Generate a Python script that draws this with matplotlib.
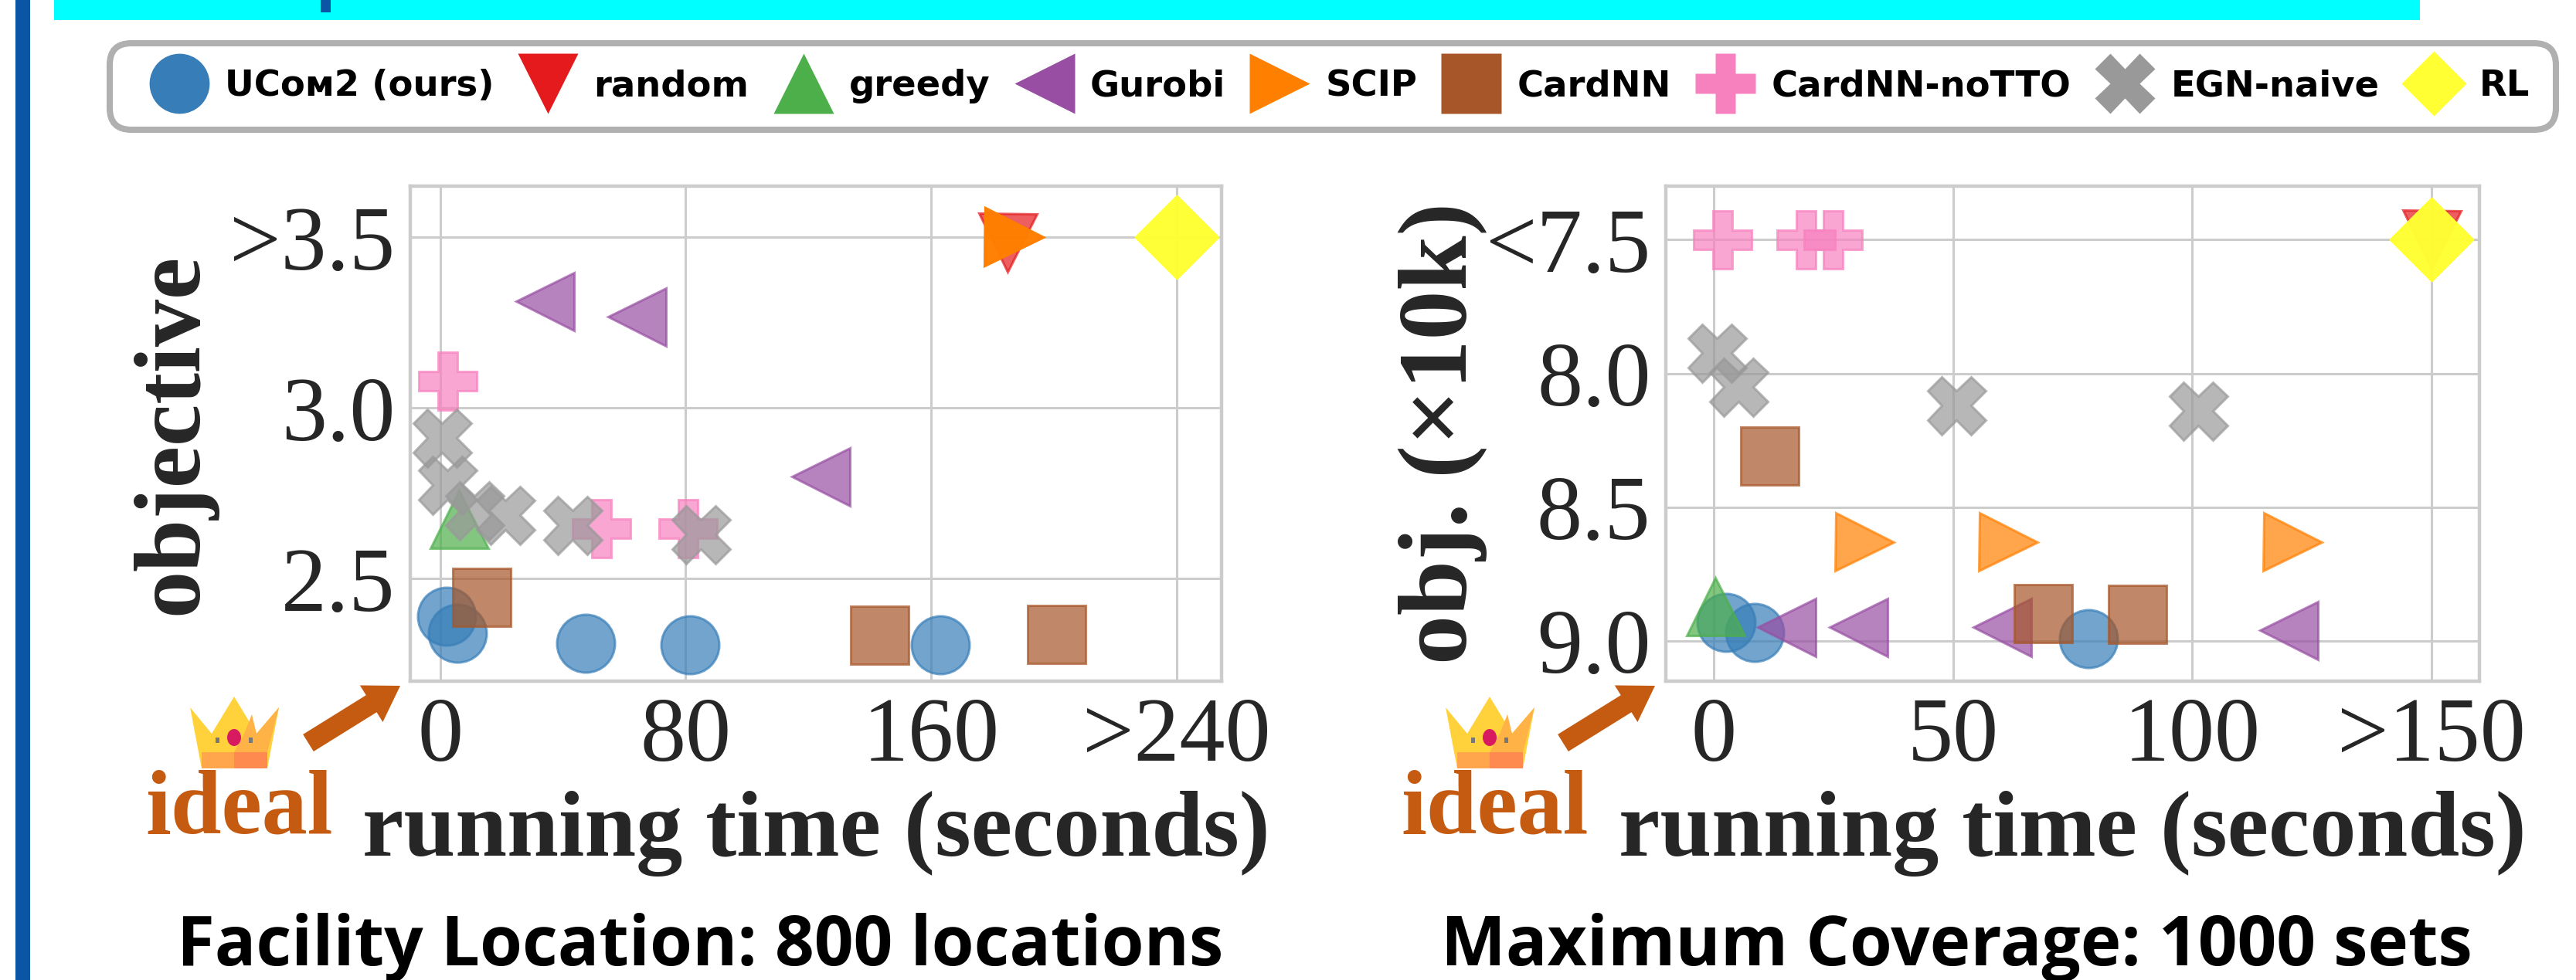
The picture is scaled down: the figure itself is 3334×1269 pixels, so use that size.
import matplotlib
matplotlib.use('Agg')
from matplotlib import pyplot as plt
from matplotlib.lines import Line2D
from matplotlib.patches import Polygon, Rectangle, Ellipse, FancyArrow

# Facility Location: 800 locations
fl_ucom_x = [2, 5.5, 47.5, 81.5, 163]
fl_ucom_y = [2.39, 2.34, 2.31, 2.307, 2.307]
fl_random_x = [185]
fl_random_y = [3.485]
fl_greedy_x = [6]
fl_greedy_y = [2.675]
fl_gurobi_x = [34, 64, 124]
fl_gurobi_y = [3.313, 3.267, 2.80]
fl_scip_x = [187, 187, 187]
fl_scip_y = [3.5, 3.5, 3.5]
fl_cardnn_x = [13.3, 143, 200.7]
fl_cardnn_y = [2.446, 2.335, 2.338]
fl_nottto_x = [2.2, 52.5, 80.7]
fl_nottto_y = [3.08, 2.648, 2.648]
fl_egn_x = [0.5, 2.4, 11, 21.2, 43, 85]
fl_egn_y = [2.913, 2.775, 2.70, 2.687, 2.657, 2.63]
fl_rl_x = [240, 240, 240]
fl_rl_y = [3.5, 3.5, 3.5]

# Maximum Coverage: 1000 sets
mc_ucom_x = [2.6, 8.6, 78.3]
mc_ucom_y = [8.93, 8.967, 8.99]
mc_random_x = [150]
mc_random_y = [7.5]
mc_greedy_x = [0.3]
mc_greedy_y = [8.87]
mc_gurobi_x = [15.2, 30.2, 60.2, 120.2]
mc_gurobi_y = [8.947, 8.947, 8.947, 8.96]
mc_scip_x = [31.5, 61.5, 121]
mc_scip_y = [8.63, 8.63, 8.63]
mc_cardnn_x = [11.6, 68.8, 88.5]
mc_cardnn_y = [8.306, 8.896, 8.9]
mc_nottto_x = [1.8, 19.2, 24.8]
mc_nottto_y = [7.5, 7.5, 7.5]
mc_egn_x = [0.65, 5.2, 50.7, 101.3]
mc_egn_y = [7.924, 8.05, 8.12, 8.14]
mc_rl_x = [150, 150, 150]
mc_rl_y = [7.5, 7.5, 7.5]

names = ['UCᴏᴍ2 (ours)', 'random', 'greedy', 'Gurobi', 'SCIP', 'CardNN', 'CardNN-noTTO', 'EGN-naive', 'RL']
markers = ['o', 'v', '^', '<', '>', 's', 'P', 'X', 'D']
colors = ['#377eb8', '#e41a1c', '#4daf4a', '#984ea3', '#ff7f00', '#a65628', '#f781bf', '#999999', '#ffff33']

W, H = 3334, 1269
SERIF = 'Liberation Serif'
INK = '#262626'
ORANGE = '#c55a11'

fig = plt.figure(figsize=(W / 100, H / 100), dpi=100, facecolor='white')


def px_axes(x0, x1, y0, y1):
    return fig.add_axes([x0 / W, 1 - y1 / H, (x1 - x0) / W, (y1 - y0) / H])


def draw_panel(ax, xs, ys, xlim, ylim, xticks, xlabels, yticks, ylabels, ylabel, label_x, label_size):
    ax.set_xlim(*xlim)
    ax.set_ylim(*ylim)
    ax.set_axisbelow(True)
    ax.grid(True, color='#cccccc', lw=2.2)
    for s in ax.spines.values():
        s.set_color('#cccccc')
        s.set_linewidth(3.2)
    for x, y, m, c in zip(xs, ys, markers, colors):
        ax.plot(x, y, ls='none', marker=m, ms=54, mfc=c, mec=c, mew=2.2, alpha=0.7)
    ax.set_xticks(xticks)
    ax.set_xticklabels(xlabels, family=SERIF, fontsize=85, color=INK)
    ax.set_yticks(yticks)
    ax.set_yticklabels(ylabels, family=SERIF, fontsize=85, color=INK)
    ax.tick_params(axis='x', length=0, pad=15)
    ax.tick_params(axis='y', length=0, pad=14)
    ax.set_xlabel('running time (seconds)', family=SERIF, fontsize=86.5, weight='bold', color=INK, labelpad=10)
    ax.set_ylabel(ylabel, family=SERIF, fontsize=label_size, weight='bold', color=INK)
    ax.yaxis.set_label_coords(label_x, 0.5)


left = px_axes(531, 1581, 241, 882)
draw_panel(left,
           [fl_ucom_x, fl_random_x, fl_greedy_x, fl_gurobi_x, fl_scip_x, fl_cardnn_x, fl_nottto_x, fl_egn_x, fl_rl_x],
           [fl_ucom_y, fl_random_y, fl_greedy_y, fl_gurobi_y, fl_scip_y, fl_cardnn_y, fl_nottto_y, fl_egn_y, fl_rl_y],
           (-9.8, 254.7), (2.2, 3.65),
           [0, 80, 160, 240], ['0', '80', '160', '>240'],
           [2.5, 3.0, 3.5], ['2.5', '3.0', '>3.5'], 'objective', -0.239, 88)

right = px_axes(2156, 3209, 241, 882)
draw_panel(right,
           [mc_ucom_x, mc_random_x, mc_greedy_x, mc_gurobi_x, mc_scip_x, mc_cardnn_x, mc_nottto_x, mc_egn_x, mc_rl_x],
           [mc_ucom_y, mc_random_y, mc_greedy_y, mc_gurobi_y, mc_scip_y, mc_cardnn_y, mc_nottto_y, mc_egn_y, mc_rl_y],
           (-10, 160), (9.15, 7.3),
           [0, 50, 100, 150], ['0', '50', '100', '>150'],
           [7.5, 8.0, 8.5, 9.0], ['<7.5', '8.0', '8.5', '9.0'], 'obj. (×10k)', -0.219, 92)

# shared legend, the RL diamond is smaller here than in the panels
handles = []
for n, m, c in zip(names, markers, colors):
    size = 43 if m == 'D' else 56
    handles.append(Line2D([], [], ls='none', marker=m, ms=size, mfc=c, mec='none', label=n))
leg = fig.legend(handles=handles, ncol=9, loc='center', bbox_to_anchor=(1725 / W, 1 - 112 / H),
                 prop={'family': 'DejaVu Sans', 'weight': 'bold', 'size': 33.5},
                 handlelength=2.4, handletextpad=0.07, columnspacing=0.31, borderpad=0.72,
                 fancybox=True, framealpha=1, numpoints=1)
leg.get_frame().set_boxstyle('round,pad=0,rounding_size=0.6')
leg.get_frame().set_edgecolor('#b0b0b0')
leg.get_frame().set_linewidth(5.8)

# page furniture in pixel coordinates
over = fig.add_axes([0, 0, 1, 1], facecolor='none')
over.set_xlim(0, W)
over.set_ylim(H, 0)
over.axis('off')
over.add_patch(Rectangle((20, 0), 19, H, color='#0b56a4', lw=0))
over.add_patch(Rectangle((70, 0), 3062, 26, color='#00ffff', lw=0))
over.add_patch(Rectangle((415, 0), 13, 16, color='#0b56a4', lw=0))


def draw_crown(x0):
    # crown icon, 115 px wide
    over.add_patch(Polygon([(x0, 902 + 14), (x0 + 28, 950), (x0 + 57, 902), (x0 + 86, 950), (x0 + 115, 916),
                            (x0 + 100, 995), (x0 + 15, 995)], closed=True, color='#ffd23c', lw=0))
    over.add_patch(Rectangle((x0 + 15, 974), 85, 21, color='#ffa64d', lw=0))
    over.add_patch(Rectangle((x0 + 57, 974), 43, 21, color='#ff8a50', lw=0))
    over.add_patch(Polygon([(x0 + 80, 925), (x0 + 86, 950), (x0 + 115, 916), (x0 + 100, 974), (x0 + 57, 974),
                            (x0 + 70, 950)], closed=True, color='#ffb347', lw=0))
    over.add_patch(Ellipse((x0 + 57, 955), 18, 22, color='#d81b60', lw=0))
    over.add_patch(Rectangle((x0 + 33, 955), 5, 7, color='#777777', lw=0))
    over.add_patch(Rectangle((x0 + 76, 955), 5, 7, color='#777777', lw=0))


for crown_x, arrow_x, ideal_x, title_x, title in [
    (246, 399, 310, 906, 'Facility Location: 800 locations'),
    (1871, 2023, 1935, 2532, 'Maximum Coverage: 1000 sets'),
]:
    draw_crown(crown_x)
    over.add_patch(FancyArrow(arrow_x, 962, 119, -74, width=26, head_width=56, head_length=44,
                              length_includes_head=True, color=ORANGE, lw=0))
    over.text(ideal_x, 1078, 'ideal', family=SERIF, weight='bold', fontsize=85, color=ORANGE,
              ha='center', va='baseline')
    over.text(title_x, 1250, title, family='Open Sans', weight='bold', fontsize=64, color='black',
              ha='center', va='baseline')

fig.savefig('out.png', dpi=100)
